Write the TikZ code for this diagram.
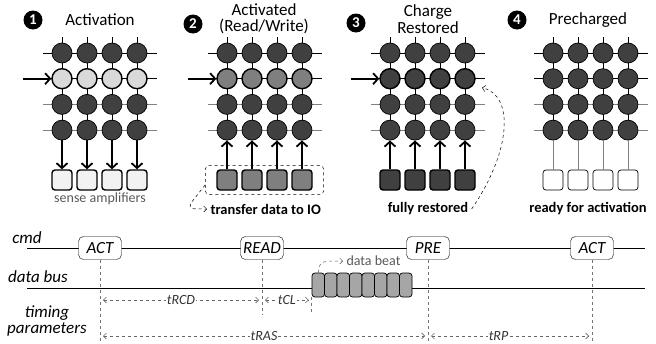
\documentclass[tikz,border=0pt]{standalone}
\usepackage{fontspec}
\setmainfont{Carlito}
\usetikzlibrary{arrows,arrows.meta,calc,positioning,backgrounds,fit}
\definecolor{cellDark}{HTML}{404040}
\definecolor{cellLight}{HTML}{D9D9D9}
\definecolor{cellMid}{HTML}{7F7F7F}
\definecolor{ampLight}{HTML}{F2F2F2}
\definecolor{beatGray}{HTML}{A6A6A6}
\definecolor{noteGray}{HTML}{595959}
\tikzset{
    cell/.style = {draw, circle, fill=cellDark, 
        minimum size=20pt, inner sep=0pt, line width=0.7pt},
    amp/.style = {draw, rectangle, rounded corners=3pt,
        minimum size=20pt, inner sep=0pt, line width=1.4pt},
    cmdbox/.style = {draw, rectangle, rounded corners=5pt, fill=white,
        minimum width=43pt, minimum height=23pt, inner sep=1pt,
        font=\fontsize{17}{17}\selectfont\itshape},
    beat/.style = {draw, rectangle, rounded corners=3pt, fill=beatGray,
        minimum width=12.5pt, minimum height=24pt, inner sep=0pt, line width=0.7pt},
    badge/.style = {circle, fill=black, text=white, minimum size=19pt, inner sep=0pt,
        font=\fontsize{15}{15}\selectfont\bfseries},
    title/.style = {align=center, font=\fontsize{17}{16.5}\selectfont},
    caption/.style = {font=\fontsize{14.5}{15}\selectfont\bfseries},
    sig/.style = {align=center, font=\fontsize{17}{16.5}\selectfont\itshape},
    param/.style = {fill=white, inner sep=1pt, text=black!80, font=\fontsize{14}{14}\selectfont\itshape},
    drive/.style = {line width=1.8pt, -{Straight Barb[length=5pt,width=11pt]}},
    guide/.style = {draw=black!55, dashed, line width=0.7pt},
    span/.style = {draw=black!60, dashed, line width=0.6pt,
        {Straight Barb[length=3pt,width=6pt]}-{Straight Barb[length=3pt,width=6pt]},
        shorten <=3pt, shorten >=3pt},
    note/.style = {dashed, line width=0.5pt, -{Straight Barb[length=3pt,width=6pt]}}
}

\begin{document}
\begin{tikzpicture}[x=1pt,y=-1pt]
    \useasboundingbox (0,0) rectangle (656,343);

    % the four cell arrays
    \foreach \p/\px/\rowfill/\rowlw/\ampfill/\amplw in {1/62/cellLight/1.4pt/ampLight/1.4pt, 2/227/cellMid/1.4pt/cellMid/1.4pt, 3/390/cellDark/1.4pt/cellDark/1.4pt, 4/553/cellDark/0.7pt/white/0.7pt} {
        \foreach \j in {1,...,4} {
            \foreach \i/\py in {1/53,3/104.4,4/130.1}
                \node [cell] (c\p-\i-\j) at ({\px+25*(\j-1)},\py) {};
            \node [cell, fill=\rowfill, line width=\rowlw] (c\p-2-\j) at ({\px+25*(\j-1)},78.7) {};
            \node [amp, fill=\ampfill, line width=\amplw] (a\p-\j) at ({\px+25*(\j-1)},180) {};
        }
        \begin{scope}[on background layer]
            \foreach \j in {1,...,4}
                \draw [line width=0.8pt] ([yshift=16pt]c\p-1-\j.center) -- (c\p-4-\j.center);
            \draw [line width=0.7pt] ([xshift=-19pt]c\p-1-1.center) -- ([xshift=20pt]c\p-1-4.center);
            \draw [line width=\rowlw] ([xshift=-19pt]c\p-2-1.center) -- ([xshift=20pt]c\p-2-4.center);
            \foreach \i in {3,4}
                \draw [gray, line width=0.7pt] ([xshift=-19pt]c\p-\i-1.center) -- ([xshift=20pt]c\p-\i-4.center);
        \end{scope}
    }

    % wordline drive
    \foreach \p in {1,2,3} {
        \coordinate (in\p) at ([xshift=-39pt]c\p-2-1.center);
        \draw [drive] (in\p) -- (c\p-2-1);
    }
    % bitlines to/from sense amplifiers
    \foreach \j in {1,...,4} {
        \draw [drive] (c1-4-\j) -- (a1-\j);
        \draw [drive] (a2-\j) -- (c2-4-\j);
        \draw [drive] (a3-\j) -- (c3-4-\j);
        \draw [gray, line width=0.7pt] (c4-4-\j) -- (a4-\j);
    }

    % headings
    \node [badge] (b1) at (33,20) {1};
    \node [title] (t1) at (100,20) {Activation};
    \node [badge] (b2) at (193,24) {2};
    \node [title] (t2) at (264,19) {Activated\\(Read/Write)};
    \node [badge] (b3) at (356,23) {3};
    \node [title] (t3) at (428,19) {Charge\\Restored};
    \node [badge] (b4) at (517,20) {4};
    \node [title] (t4) at (588,20) {Precharged};

    % captions
    \node [text=noteGray, font=\fontsize{14}{14}\selectfont] (sa) at (100,199) {sense amplifiers};
    \node [draw, dashed, rounded corners=4pt, line width=0.5pt, inner xsep=11pt, inner ysep=4pt, fit=(a2-1)(a2-4)] (iobox) {};
    \node [caption, anchor=west] (xfer) at (207,209) {transfer data to IO};
    \draw [note] ([yshift=-5pt]iobox.west) -- (191,203) .. controls (189,209) .. (xfer.west);
    \node [caption] (fr) at (428,209) {fully restored};
    \coordinate (rst) at ([xshift=17pt,yshift=-9pt]c3-2-4.center);
    \draw [note] (fr.east) .. controls (512,150) and (514,95) .. (rst);
    \node [caption] (rdy) at (588,209) {ready for activation};

    % timing
    \coordinate (cmdL) at (27,248);
    \coordinate (cmdR) at (645,248);
    \coordinate (busL) at (27,288);
    \coordinate (busR) at (645,288);
    \coordinate (floor) at (0,343);
    \coordinate (tick) at (0,315);
    \coordinate (rowA) at (0,300);
    \coordinate (rowB) at (0,336);
    \draw [line width=0.8pt] (cmdL) -- (cmdR);
    \draw [line width=0.8pt] (busL) -- (busR);
    \node [sig] (cmd) at (27,238) {cmd};
    \node [sig] (bus) at (38,277) {data bus};
    \node [sig] (tp) at (47,321) {timing\\parameters};

    \node [cmdbox] (act1) at (100,248) {ACT};
    \node [cmdbox] (read) at (262,248) {READ};
    \node [cmdbox] (pre) at (428,248) {PRE};
    \node [cmdbox] (act2) at (592,248) {ACT};

    \foreach \k in {1,...,8}
        \node [beat] (d\k) at ({318.25+12.5*(\k-1)},285) {};
    \node [text=noteGray, font=\fontsize{14}{14}\selectfont, anchor=west] (db) at (343,261) {data beat};
    \draw [note, noteGray] (d1.north) .. controls (320,261) .. (db.west);

    \draw [guide] (act1.south) -- (act1.south |- floor);
    \draw [guide] (read.south) -- (read.south |- tick);
    \draw [guide] (d1.south west) -- (d1.south west |- tick);
    \draw [guide] (pre.south) -- (pre.south |- floor);
    \draw [guide] (act2.south) -- (act2.south |- floor);

    \draw [span] (act1 |- rowA) -- node [param] {tRCD} (read |- rowA);
    \draw [span] (read |- rowA) -- node [param] {tCL} (d1.south west |- rowA);
    \draw [span] (act1 |- rowB) -- node [param] {tRAS} (pre |- rowB);
    \draw [span] (pre |- rowB) -- node [param, pos=0.43] {tRP} (act2 |- rowB);
\end{tikzpicture}
\end{document}
